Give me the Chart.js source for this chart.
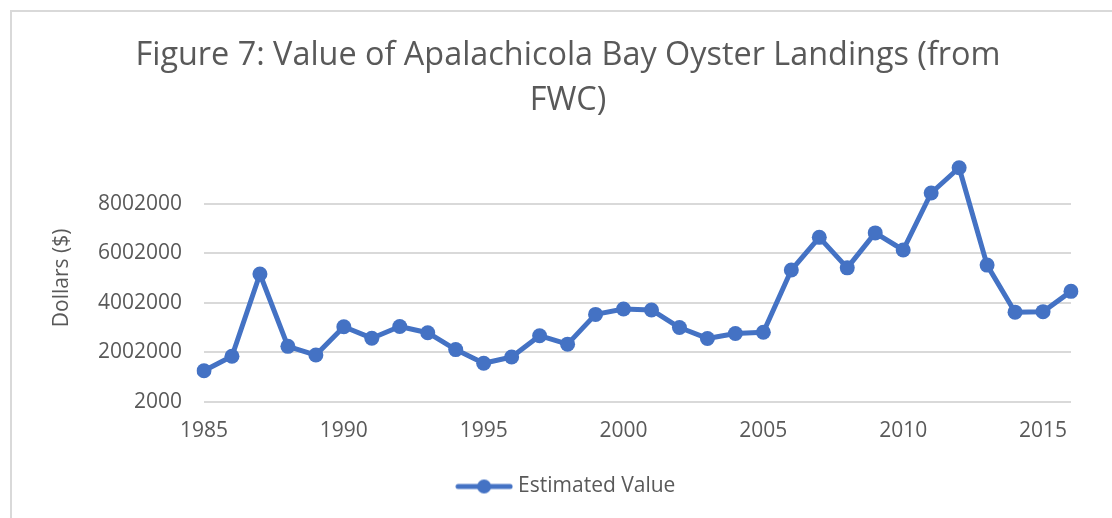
<!DOCTYPE html>
<html>
<head>
<meta charset="utf-8">
<script src="https://cdn.jsdelivr.net/npm/chart.js@4.4.0/dist/chart.umd.min.js"></script>
<style>
  html, body { margin: 0; padding: 0; background: #ffffff; }
  #wrap { position: relative; width: 1112px; height: 518px; overflow: hidden; }
  #frame { position: absolute; left: 10px; top: 10px; width: 1200px; height: 600px;
           border-left: 2px solid #d9d9d9; border-top: 2px solid #d9d9d9; box-sizing: border-box; }
  canvas { position: absolute; left: 0; top: 0; }
</style>
</head>
<body>
<div id="wrap">
  <div id="frame"></div>
  <canvas id="c" width="1112" height="518"></canvas>
</div>
<script>
const titleLines = ['Figure 7: Value of Apalachicola Bay Oyster Landings (from', 'FWC)'];
const yAxisTitle = 'Dollars ($)';
const seriesName = 'Estimated Value';
const years = ['1985','1986','1987','1988','1989','1990','1991','1992','1993','1994',
               '1995','1996','1997','1998','1999','2000','2001','2002','2003','2004',
               '2005','2006','2007','2008','2009','2010','2011','2012','2013','2014',
               '2015','2016'];
const estimatedValue = [1255000, 1840000, 5160000, 2240000, 1890000, 3030000, 2570000, 3040000,
                        2790000, 2110000, 1560000, 1810000, 2670000, 2330000, 3530000, 3750000,
                        3710000, 3000000, 2560000, 2760000, 2810000, 5320000, 6640000, 5410000,
                        6820000, 6130000, 8430000, 9450000, 5520000, 3620000, 3640000, 4460000];
const xTickLabels = ['1985','1990','1995','2000','2005','2010','2015'];
const yTickValues = [2000, 2002000, 4002000, 6002000, 8002000];

const BLUE = '#4472C4';
const TEXT = '#595959';
const FONT = "'Open Sans', sans-serif";

// legend sample: line with a marker in the middle
const sample = document.createElement('canvas');
sample.width = 58; sample.height = 16;
(function(){
  const g = sample.getContext('2d');
  g.strokeStyle = BLUE; g.lineWidth = 5; g.lineCap = 'round';
  g.beginPath(); g.moveTo(3, 8); g.lineTo(55, 8); g.stroke();
  g.fillStyle = BLUE; g.beginPath(); g.arc(29, 8, 7, 0, Math.PI * 2); g.fill();
})();

new Chart(document.getElementById('c'), {
  type: 'line',
  data: {
    labels: years,
    datasets: [{
      label: seriesName,
      data: estimatedValue,
      borderColor: BLUE,
      backgroundColor: BLUE,
      borderWidth: 5,
      pointRadius: 7.5,
      pointHoverRadius: 7.5,
      pointBackgroundColor: BLUE,
      pointBorderWidth: 0,
      tension: 0,
      borderJoinStyle: 'round',
      borderCapStyle: 'round'
    }]
  },
  options: {
    responsive: false,
    animation: false,
    layout: { padding: { left: 65, right: 41, top: 10, bottom: 11 } },
    plugins: {
      title: {
        display: true,
        text: titleLines,
        color: TEXT,
        font: { family: FONT, size: 32.4, weight: 'normal', lineHeight: 1.39 },
        padding: { top: 23, bottom: 31 }
      },
      legend: {
        display: true,
        position: 'bottom',
        labels: {
          color: TEXT,
          font: { family: FONT, size: 21 },
          usePointStyle: true,
          pointStyleWidth: 47,
          padding: 15,
          generateLabels: (chart) => chart.data.datasets.map((ds, i) => ({
            text: ds.label, pointStyle: sample, fillStyle: BLUE, strokeStyle: BLUE,
            lineWidth: 0, hidden: false, datasetIndex: i, fontColor: TEXT
          }))
        }
      },
      tooltip: { enabled: false }
    },
    scales: {
      x: {
        type: 'category',
        offset: false,
        grid: { display: false, drawTicks: false },
        border: { display: false },
        ticks: {
          autoSkip: false, maxRotation: 0, minRotation: 0,
          color: TEXT, font: { family: FONT, size: 21 }, padding: 17,
          callback: function(v) { const l = this.getLabelForValue(v); return xTickLabels.includes(l) ? l : ''; }
        }
      },
      y: {
        min: 2000,
        max: 10002000,
        afterBuildTicks: (axis) => { axis.ticks = yTickValues.map(v => ({ value: v })); },
        afterFit: (axis) => { axis.width = 139; },
        grid: { color: '#d9d9d9', lineWidth: 2, drawTicks: false },
        border: { display: false },
        ticks: {
          color: TEXT, font: { family: FONT, size: 21 }, padding: 22,
          callback: (v) => String(v)
        },
        title: {
          display: true, text: yAxisTitle, color: TEXT,
          font: { family: FONT, size: 21 }, padding: { top: -16 }
        }
      }
    }
  }
});
</script>
</body>
</html>
